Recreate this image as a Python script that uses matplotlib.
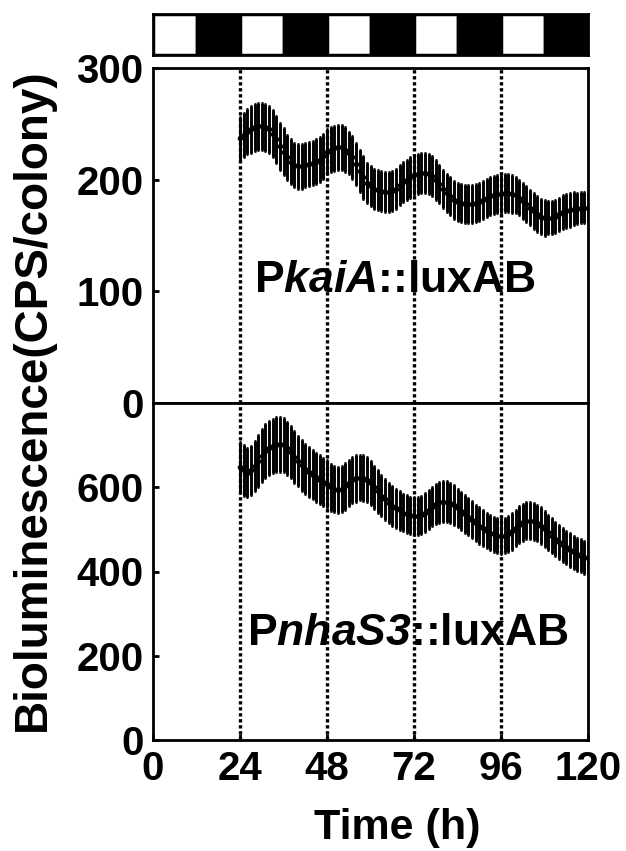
import numpy as np
import matplotlib

matplotlib.use("Agg")
import matplotlib.pyplot as plt
from matplotlib.patches import Rectangle

plt.rcParams["font.family"] = ["Liberation Sans", "DejaVu Sans"]
plt.rcParams["font.weight"] = "bold"
plt.rcParams["mathtext.fontset"] = "custom"
plt.rcParams["mathtext.it"] = "Liberation Sans:italic:bold"
plt.rcParams["mathtext.rm"] = "Liberation Sans:italic:bold"

# sampling times (h), one point per hour from 24 to 120
time_h = np.arange(24, 121)

# PkaiA::luxAB, mean and error (CPS/colony)
kaia_mean = [
    237, 240, 243, 245, 247, 248, 248, 247, 245, 241,
    236, 230, 225, 220, 216, 213, 212, 212, 213, 214,
    215, 216, 218, 221, 225, 227, 228, 229, 229, 227,
    224, 220, 214, 208, 202, 197, 194, 192, 191, 190,
    189, 189, 190, 192, 195, 198, 200, 202, 204, 205,
    206, 206, 205, 203, 200, 196, 192, 188, 185, 182,
    180, 179, 178, 178, 178, 179, 180, 182, 184, 185,
    186, 187, 187, 188, 188, 187, 186, 184, 181, 178,
    175, 172, 169, 167, 166, 166, 166, 167, 169, 171,
    172, 173, 174, 174, 175, 175, 175,
]
kaia_err = [
    19, 20, 20, 21, 21, 21, 21, 21, 21, 21,
    21, 21, 21, 20, 20, 20, 20, 20, 20, 20,
    20, 20, 20, 20, 20, 20, 20, 20, 20, 20,
    19, 19, 19, 19, 19, 18, 18, 18, 18, 18,
    18, 18, 18, 18, 18, 18, 18, 18, 18, 18,
    18, 18, 18, 18, 18, 17, 17, 17, 17, 17,
    17, 17, 17, 17, 17, 17, 17, 17, 17, 17,
    17, 17, 17, 17, 17, 17, 16, 16, 16, 16,
    16, 16, 16, 16, 16, 15, 15, 15, 15, 15,
    15, 15, 15, 14, 14, 14, 14,
]

# PnhaS3::luxAB, mean and error (CPS/colony)
nhas3_mean = [
    647, 640, 635, 640, 650, 662, 675, 685, 693, 698,
    701, 702, 700, 693, 683, 672, 662, 652, 643, 636,
    630, 624, 618, 612, 607, 600, 596, 594, 596, 602,
    610, 617, 621, 623, 622, 618, 610, 600, 590, 580,
    571, 563, 556, 550, 545, 540, 536, 533, 532, 532,
    535, 540, 547, 554, 560, 564, 566, 566, 563, 558,
    551, 544, 537, 530, 523, 516, 509, 503, 497, 492,
    488, 485, 484, 485, 489, 495, 503, 511, 517, 520,
    521, 519, 515, 509, 501, 493, 485, 477, 470, 463,
    457, 451, 446, 441, 437, 434, 431,
]
nhas3_err = [
    60, 60, 58, 58, 60, 62, 63, 64, 65, 65,
    65, 65, 64, 63, 62, 61, 60, 60, 59, 59,
    58, 58, 58, 57, 57, 56, 55, 55, 55, 55,
    55, 55, 55, 54, 54, 53, 52, 51, 50, 49,
    48, 47, 47, 46, 46, 45, 45, 45, 45, 45,
    45, 46, 46, 47, 47, 48, 48, 48, 47, 47,
    46, 45, 45, 44, 44, 43, 43, 43, 42, 42,
    42, 42, 42, 42, 42, 43, 43, 44, 44, 44,
    44, 44, 43, 43, 42, 42, 41, 41, 40, 40,
    40, 40, 39, 39, 39, 39, 39,
]

# light/dark schedule: 12 h light then 12 h dark
phase_start = [0, 12, 24, 36, 48, 60, 72, 84, 96, 108]
phase_light = [True, False, True, False, True, False, True, False, True, False]
phase_len = 12

day_lines = [24, 48, 72, 96]
x_ticks = [0, 24, 48, 72, 96, 120]

W, H = 626, 851
fig = plt.figure(figsize=(W / 100, H / 100), dpi=100)

left, right = 153 / W, 588 / W
def box(top_px, bottom_px):
    return [left, 1 - bottom_px / H, right - left, (bottom_px - top_px) / H]

ax_ld = fig.add_axes(box(14, 55))
ax_top = fig.add_axes(box(68, 403))
ax_bot = fig.add_axes(box(403, 740))

# light/dark bar
for start, light in zip(phase_start, phase_light):
    ax_ld.add_patch(Rectangle((start, 0), phase_len, 1,
                              facecolor="white" if light else "black",
                              edgecolor="black", linewidth=2.5))
ax_ld.set_xlim(0, 120)
ax_ld.set_ylim(0, 1)
ax_ld.set_xticks([])
ax_ld.set_yticks([])
for s in ax_ld.spines.values():
    s.set_linewidth(2)

tick_fs = 29

def style(ax):
    for s in ax.spines.values():
        s.set_linewidth(2)
    ax.tick_params(direction="in", length=4, width=2, labelsize=tick_fs, pad=7)
    for x in day_lines:
        ax.axvline(x, color="black", linestyle=(0, (1, 0.8)), linewidth=2.4, zorder=1)
    ax.set_xlim(0, 120)

panels = [
    (ax_top, kaia_mean, kaia_err, (0, 300), [0, 100, 200, 300],
     r"P$kaiA$::luxAB", 395, 292),
    (ax_bot, nhas3_mean, nhas3_err, (0, 800), [0, 200, 400, 600],
     r"P$nhaS3$::luxAB", 408, 645),
]

for ax, mean, err, ylim, yticks, label, lx, ly in panels:
    style(ax)
    ax.errorbar(time_h, mean, yerr=err, fmt="o", color="black", markersize=3,
                elinewidth=2.1, capsize=1.0, capthick=2.0, zorder=3)
    ax.set_ylim(*ylim)
    ax.set_yticks(yticks)
    ax.set_yticklabels([str(v) for v in yticks], fontweight="bold")
    fig.text(lx / W, 1 - ly / H, label, ha="center", va="baseline",
             fontsize=32, fontweight="bold")

ax_top.set_xticks([])
ax_bot.set_xticks(x_ticks)
ax_bot.set_xticklabels([str(v) for v in x_ticks], fontweight="bold")

fig.text(33 / W, 1 - 400 / H, "Bioluminescence(CPS/colony)", rotation=90,
         ha="center", va="center", fontsize=33, fontweight="bold")
fig.text(397 / W, 1 - 828 / H, "Time (h)", ha="center", va="center",
         fontsize=31, fontweight="bold")

fig.savefig("out.png", dpi=100)
